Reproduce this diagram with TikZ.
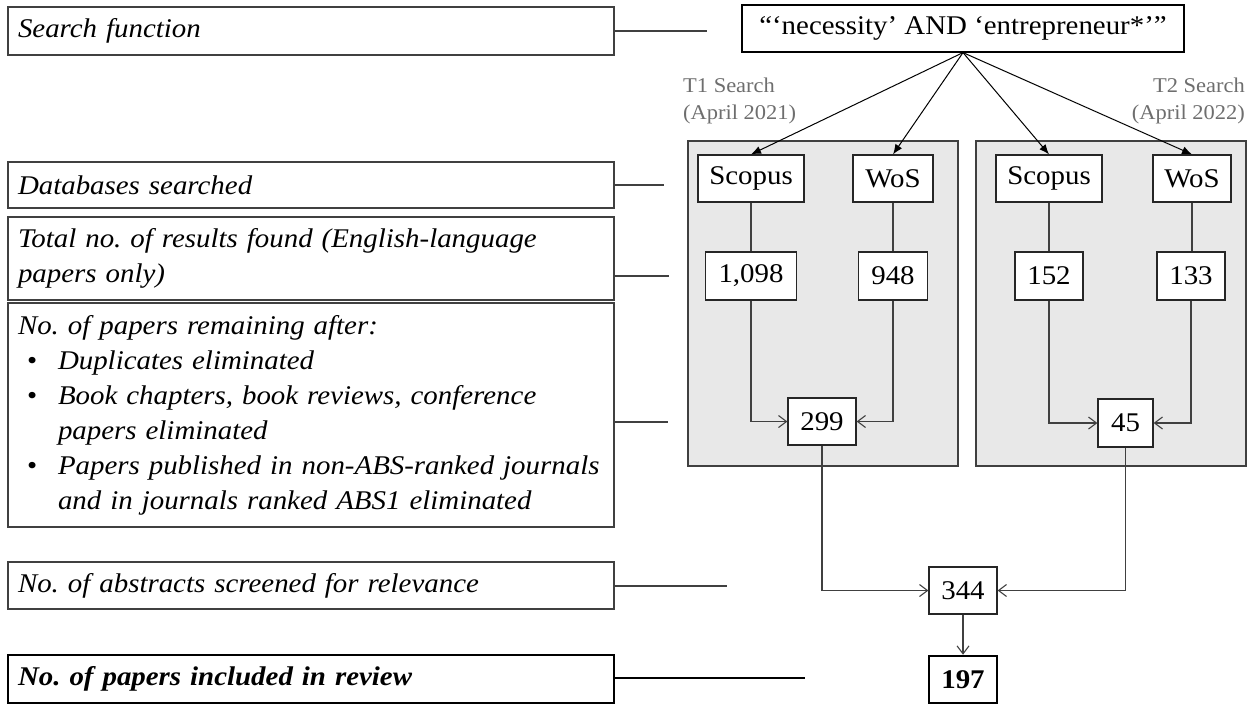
\documentclass[tikz,border=0pt]{standalone}
\usepackage{fontspec}
\setmainfont{Liberation Serif}[FakeStretch=1.07]
\usetikzlibrary{arrows.meta}

\definecolor{edge}{HTML}{404040}
\definecolor{panelfill}{HTML}{E8E8E8}
\definecolor{labelgray}{HTML}{6E6E6E}

\begin{document}
\begin{tikzpicture}[x=1pt,y=-1pt,
  stagebox/.style={draw=edge, line width=1.3pt, fill=white, text width=586pt,
    inner xsep=10pt, inner ysep=0pt, align=left,
    font=\fontsize{27}{35}\selectfont\itshape},
  numbox/.style={draw=black!85, line width=1.2pt, fill=white, inner sep=0pt,
    font=\fontsize{27}{30}\selectfont},
  panel/.style={draw=edge, line width=1.2pt, fill=panelfill, inner sep=0pt,
    minimum width=270pt, minimum height=325pt},
  period/.style={text=labelgray, inner sep=0pt, font=\fontsize{21}{27}\selectfont},
  link/.style={draw=edge, line width=1.1pt},
  search/.style={draw=black, line width=1pt, -{Latex[length=10pt,width=8pt]}},
  flow/.style={draw=edge, line width=1.1pt, -{Straight Barb[length=8pt,width=12pt]}},
]
\useasboundingbox (0,0) rectangle (1257,704);

% stage descriptions on the left
\node[stagebox, minimum height=48pt] (lsearch) at (311,31) {Search function};
\node[stagebox, minimum height=46pt] (ldb) at (311,185) {Databases searched};
\node[stagebox, minimum height=83pt] (ltotal) at (311,258.5)
  {Total no.\ of results found (English-language\\papers only)};
\node[stagebox, minimum height=224pt] (lremain) at (311,415)
  {No.\ of papers remaining after:\\
   \makebox[40pt][l]{\hspace{9pt}\upshape\textbullet}Duplicates eliminated\\
   \makebox[40pt][l]{\hspace{9pt}\upshape\textbullet}Book chapters, book reviews, conference\\
   \hspace*{40pt}papers eliminated\\
   \makebox[40pt][l]{\hspace{9pt}\upshape\textbullet}Papers published in non-ABS-ranked journals\\
   \hspace*{40pt}and in journals ranked ABS1 eliminated};
\node[stagebox, minimum height=47pt] (labs) at (311,585.5) {No.\ of abstracts screened for relevance};
\node[stagebox, draw=black, line width=2.5pt, minimum height=48pt,
  font=\fontsize{27}{35}\selectfont\bfseries\itshape]
  (lincl) at (311,679) {No.\ of papers included in review};

% free ends of the stage leaders
\coordinate (e1) at (707,31);
\coordinate (e2) at (664,185);
\coordinate (e3) at (669,276);
\coordinate (e4) at (668,422);
\coordinate (e5) at (727,586);
\coordinate (e6) at (805,678);

\draw[link] (lsearch.east) -- (e1);
\draw[link] (ldb.east) -- (e2);
\draw[link] (ltotal.east |- e3) -- (e3);
\draw[link] (lremain.east |- e4) -- (e4);
\draw[link] (labs.east |- e5) -- (e5);
\draw[draw=black, line width=2.5pt] (lincl.east |- e6) -- (e6);

% search panels
\node[panel] (p1) at (823,303.5) {};
\node[panel] (p2) at (1111,303.5) {};

\node[period, anchor=west, align=left] (t1) at (683,101) {T1 Search\\(April 2021)};
\node[period, anchor=east, align=right] (t2) at (1245,101) {T2 Search\\(April 2022)};

% search string
\node[numbox, draw=black, minimum width=442pt, minimum height=47pt] (srch) at (963,28.5)
  {“‘necessity’ AND ‘entrepreneur*’”};

% databases
\node[numbox, minimum width=106pt, minimum height=47pt] (s1) at (751,178.5) {Scopus};
\node[numbox, minimum width=80pt, minimum height=47pt] (w1) at (893,178.5) {WoS};
\node[numbox, minimum width=106pt, minimum height=47pt] (s2) at (1049,178.5) {Scopus};
\node[numbox, minimum width=78pt, minimum height=47pt] (w2) at (1192,178.5) {WoS};

% results found
\node[numbox, minimum width=91pt, minimum height=48pt] (n1) at (751,276) {1,098};
\node[numbox, minimum width=69pt, minimum height=48pt] (n2) at (893,276) {948};
\node[numbox, minimum width=68pt, minimum height=48pt] (n3) at (1049,276) {152};
\node[numbox, minimum width=68pt, minimum height=48pt] (n4) at (1191,276) {133};

% after elimination
\node[numbox, minimum width=68pt, minimum height=47pt] (m1) at (822,421.5) {299};
\node[numbox, minimum width=55pt, minimum height=48pt] (m2) at (1125.5,423) {45};

% screening and final set
\node[numbox, minimum width=68pt, minimum height=47pt] (scr) at (963,590.5) {344};
\node[numbox, draw=black, line width=2.5pt, minimum width=68pt, minimum height=47pt,
  font=\fontsize{27}{30}\selectfont\bfseries] (fin) at (963,679.5) {197};

% connectors
\draw[search] (srch.south) -- (s1.north);
\draw[search] (srch.south) -- (w1.north);
\draw[search] (srch.south) -- (s2.north);
\draw[search] (srch.south) -- (w2.north);

\draw[link] (s1.south) -- (s1.south |- n1.north);
\draw[link] (w1.south) -- (w1.south |- n2.north);
\draw[link] (s2.south) -- (s2.south |- n3.north);
\draw[link] (w2.south) -- (w2.south |- n4.north);

\draw[flow] (n1.south) |- (m1.west);
\draw[flow] (n2.south) |- (m1.east);
\draw[flow] (n3.south) |- (m2.west);
\draw[flow] (n4.south) |- (m2.east);

\draw[flow] (m1.south) |- (scr.west);
\draw[flow] (m2.south) |- (scr.east);
\draw[flow] (scr.south) -- (fin.north);
\end{tikzpicture}
\end{document}
